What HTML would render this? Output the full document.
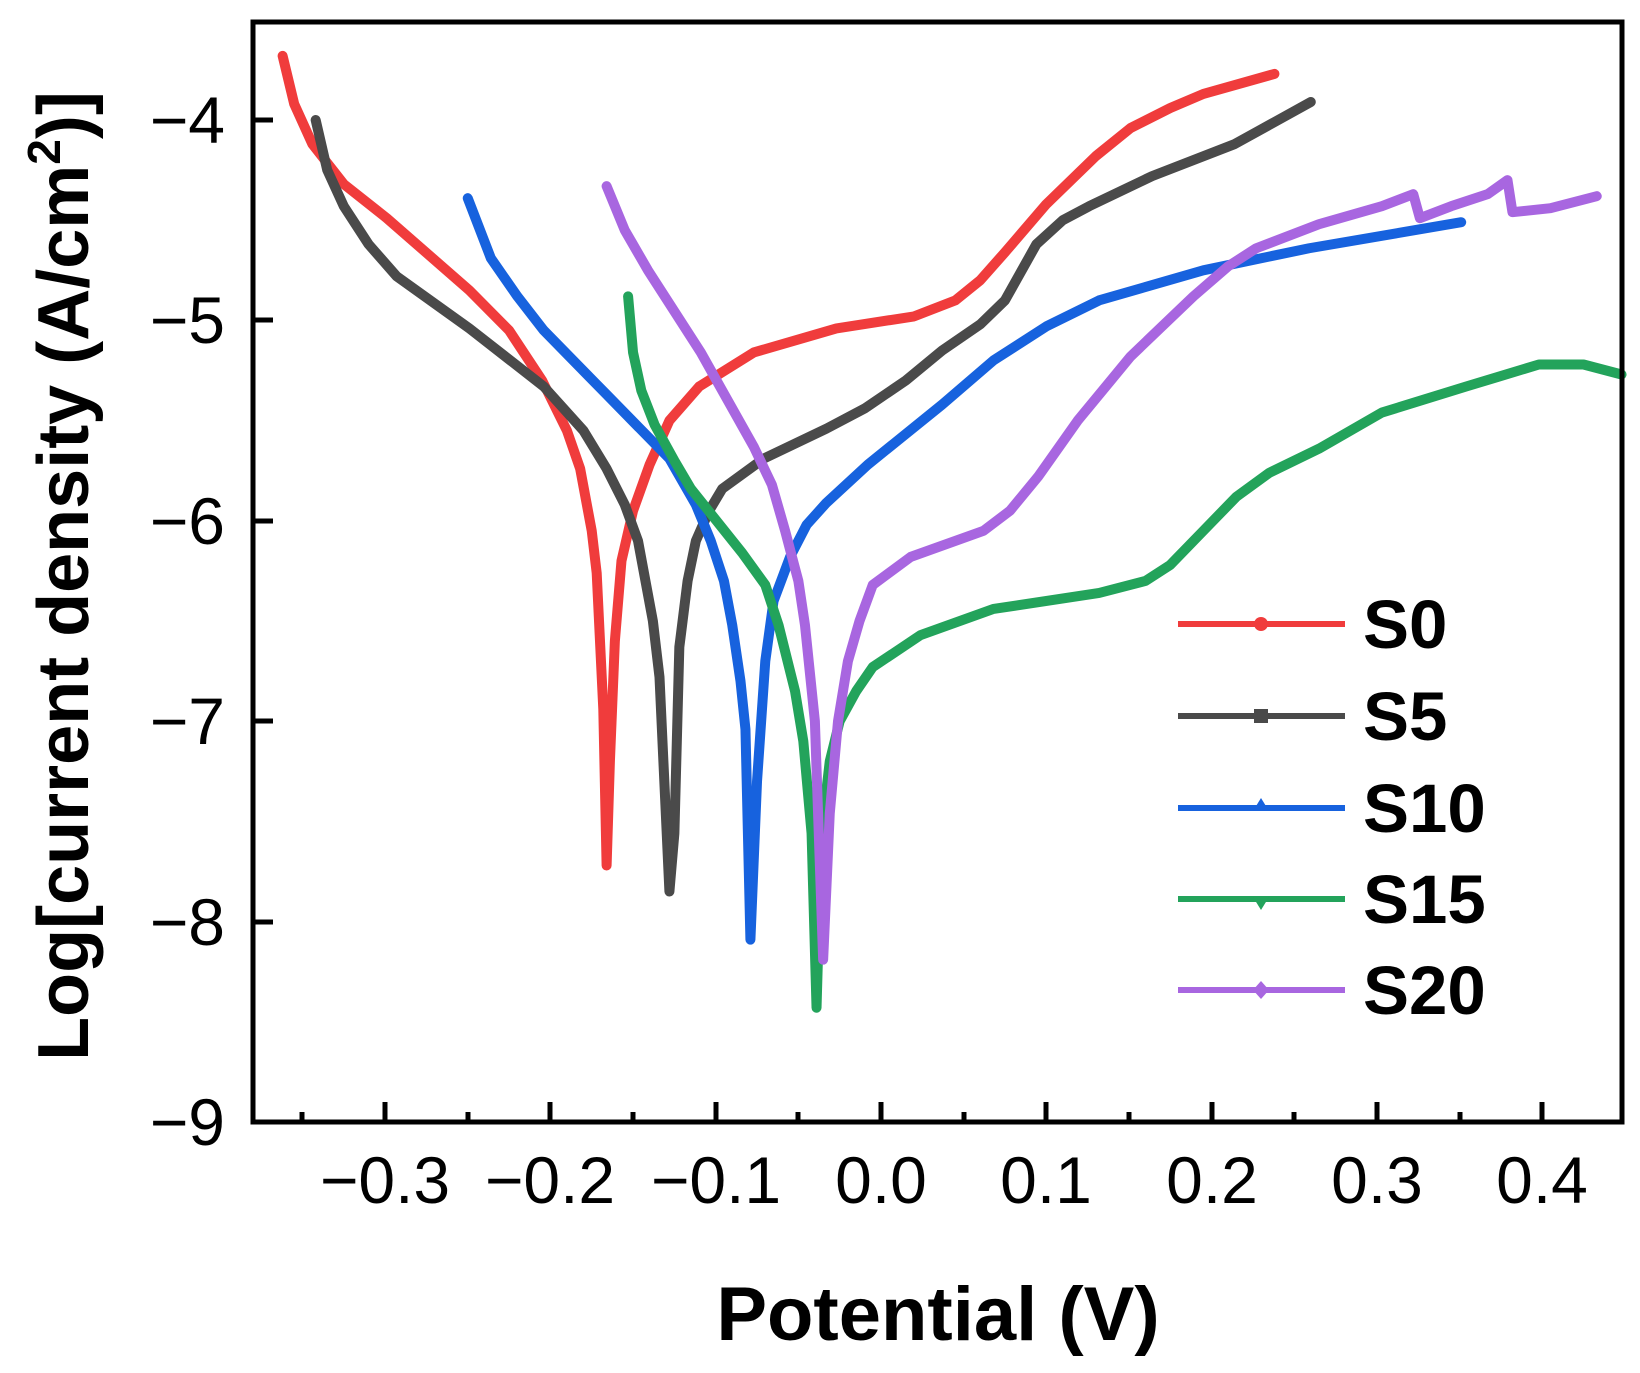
<!DOCTYPE html>
<html><head><meta charset="utf-8"><style>
html,body{margin:0;padding:0;background:#fff}
svg{display:block}
text{font-family:"Liberation Sans",Arial,sans-serif;fill:#000}
</style></head><body>
<svg width="1640" height="1373" viewBox="0 0 1640 1373" xmlns="http://www.w3.org/2000/svg">
<g transform="matrix(1653 0 0 -200.4 881 -681.6)" fill="none" stroke-linejoin="round" stroke-linecap="round">
<polyline vector-effect="non-scaling-stroke" stroke="#f03c3c" stroke-width="10" points="-0.362,-3.68 -0.355,-3.92 -0.344,-4.12 -0.325,-4.32 -0.299,-4.49 -0.249,-4.85 -0.225,-5.05 -0.205,-5.3 -0.19,-5.55 -0.182,-5.74 -0.175,-6.05 -0.172,-6.26 -0.168,-6.94 -0.166,-7.72 -0.164,-7.2 -0.161,-6.6 -0.157,-6.2 -0.15,-5.95 -0.14,-5.72 -0.128,-5.5 -0.11,-5.33 -0.077,-5.16 -0.027,-5.04 0.02,-4.98 0.045,-4.9 0.06,-4.8 0.075,-4.66 0.1,-4.42 0.13,-4.18 0.151,-4.04 0.175,-3.94 0.195,-3.87 0.238,-3.77"/>
<polyline vector-effect="non-scaling-stroke" stroke="#4a4a4a" stroke-width="10" points="-0.342,-4.0 -0.335,-4.25 -0.325,-4.43 -0.31,-4.62 -0.293,-4.78 -0.249,-5.04 -0.204,-5.33 -0.18,-5.55 -0.166,-5.74 -0.155,-5.92 -0.147,-6.1 -0.138,-6.5 -0.134,-6.78 -0.128,-7.85 -0.125,-7.56 -0.122,-6.63 -0.117,-6.3 -0.112,-6.1 -0.104,-5.95 -0.096,-5.84 -0.071,-5.69 -0.033,-5.54 -0.01,-5.44 0.015,-5.3 0.037,-5.15 0.06,-5.02 0.075,-4.9 0.094,-4.62 0.11,-4.5 0.126,-4.43 0.164,-4.28 0.214,-4.12 0.26,-3.91"/>
<polyline vector-effect="non-scaling-stroke" stroke="#1762de" stroke-width="10" points="-0.25,-4.39 -0.236,-4.69 -0.22,-4.88 -0.204,-5.05 -0.166,-5.37 -0.128,-5.69 -0.112,-5.92 -0.103,-6.1 -0.095,-6.3 -0.09,-6.52 -0.085,-6.8 -0.082,-7.04 -0.079,-8.09 -0.075,-7.3 -0.07,-6.7 -0.065,-6.4 -0.055,-6.18 -0.045,-6.02 -0.033,-5.91 -0.008,-5.72 0.037,-5.42 0.068,-5.2 0.1,-5.03 0.132,-4.9 0.195,-4.75 0.259,-4.64 0.351,-4.51"/>
<polyline vector-effect="non-scaling-stroke" stroke="#23a35b" stroke-width="10" points="-0.153,-4.88 -0.15,-5.16 -0.145,-5.35 -0.137,-5.52 -0.125,-5.7 -0.115,-5.84 -0.084,-6.16 -0.07,-6.32 -0.062,-6.52 -0.052,-6.85 -0.047,-7.1 -0.042,-7.56 -0.039,-8.43 -0.036,-7.56 -0.031,-7.2 -0.025,-7.0 -0.015,-6.85 -0.005,-6.73 0.024,-6.57 0.068,-6.44 0.132,-6.36 0.16,-6.3 0.175,-6.22 0.195,-6.05 0.215,-5.88 0.235,-5.76 0.265,-5.64 0.303,-5.46 0.354,-5.33 0.398,-5.22 0.425,-5.22 0.448,-5.27"/>
<polyline vector-effect="non-scaling-stroke" stroke="#a866e0" stroke-width="10" points="-0.166,-4.33 -0.155,-4.55 -0.141,-4.75 -0.109,-5.16 -0.077,-5.63 -0.066,-5.82 -0.058,-6.05 -0.05,-6.3 -0.046,-6.52 -0.04,-7.0 -0.035,-8.19 -0.031,-7.46 -0.026,-7.0 -0.02,-6.7 -0.013,-6.5 -0.005,-6.32 0.018,-6.18 0.062,-6.05 0.078,-5.95 0.095,-5.78 0.119,-5.5 0.151,-5.18 0.189,-4.88 0.21,-4.73 0.227,-4.64 0.265,-4.52 0.303,-4.43 0.322,-4.37 0.326,-4.49 0.345,-4.43 0.367,-4.37 0.379,-4.3 0.382,-4.46 0.405,-4.44 0.433,-4.38"/>
</g>
<g stroke="#000" stroke-width="5" fill="none">
<rect x="253" y="22" width="1369" height="1100"/>
<path d="M385 1122v-20M550 1122v-20M716 1122v-20M881 1122v-20M1046 1122v-20M1212 1122v-20M1377 1122v-20M1542 1122v-20"/>
<path d="M302 1122v-10M468 1122v-10M633 1122v-10M798 1122v-10M964 1122v-10M1129 1122v-10M1294 1122v-10M1460 1122v-10"/>
<path d="M253 120h20M253 320h20M253 521h20M253 721h20M253 922h20"/>
</g>
<g font-size="66" text-anchor="middle">
<text x="385" y="1203">−0.3</text><text x="550" y="1203">−0.2</text><text x="716" y="1203">−0.1</text>
<text x="881" y="1203">0.0</text><text x="1046" y="1203">0.1</text><text x="1212" y="1203">0.2</text>
<text x="1377" y="1203">0.3</text><text x="1542" y="1203">0.4</text>
</g>
<g font-size="66" text-anchor="end">
<text x="225" y="143">−4</text><text x="225" y="343">−5</text><text x="225" y="544">−6</text>
<text x="225" y="744">−7</text><text x="225" y="945">−8</text><text x="225" y="1145">−9</text>
</g>
<text x="938" y="1340" font-size="76" font-weight="bold" text-anchor="middle">Potential (V)</text>
<text transform="translate(88,576) rotate(-90)" font-size="72" font-weight="bold" text-anchor="middle">Log[current density (A/cm<tspan font-size="46" dy="-28">2</tspan><tspan dy="28">)]</tspan></text>
<g stroke-width="6">
<line x1="1178" y1="624" x2="1345" y2="624" stroke="#f03c3c"/>
<line x1="1178" y1="716" x2="1345" y2="716" stroke="#4a4a4a"/>
<line x1="1178" y1="808" x2="1345" y2="808" stroke="#1762de"/>
<line x1="1178" y1="899" x2="1345" y2="899" stroke="#23a35b"/>
<line x1="1178" y1="990" x2="1345" y2="990" stroke="#a866e0"/>
</g>
<circle cx="1261" cy="624" r="7" fill="#f03c3c"/>
<rect x="1254" y="709" width="14" height="14" fill="#4a4a4a"/>
<path d="M1261 798l8 13h-16z" fill="#1762de"/>
<path d="M1261 910l8 -13h-16z" fill="#23a35b"/>
<path d="M1261 981l8 9l-8 9l-8 -9z" fill="#a866e0"/>
<g font-size="69" font-weight="bold">
<text x="1363" y="648">S0</text><text x="1363" y="740">S5</text><text x="1363" y="832">S10</text>
<text x="1363" y="923">S15</text><text x="1363" y="1014">S20</text>
</g>
</svg>
</body></html>
